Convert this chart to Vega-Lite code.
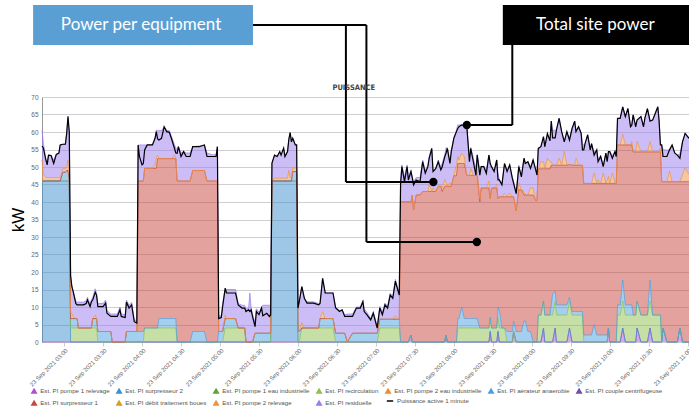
{
"$schema":"https://vega.github.io/schema/vega-lite/v6.json",
"width":647,"height":245,"autosize":"none",
"padding":{"left":42,"top":97,"right":0,"bottom":64},
"background":"white",
"config":{"view":{"stroke":null}},
"data":{"values":[
{"t":"2021-09-23T02:43","a":0,"b":46,"d":0,"f":0,"h":0,"j":6,"k":8.6,"p":56},
{"t":"2021-09-23T02:44","a":0,"b":46,"d":0,"f":0,"h":0,"j":2,"k":9,"p":55.5},
{"t":"2021-09-23T02:46","a":0,"b":46,"d":0,"f":0,"h":0,"j":1,"k":5,"p":52},
{"t":"2021-09-23T02:47","a":0,"b":46,"d":0,"f":0,"h":0,"j":1,"k":4.5,"p":50.6},
{"t":"2021-09-23T02:48","a":0,"b":46,"d":0,"f":0,"h":0,"j":1,"k":6.4,"p":53.4},
{"t":"2021-09-23T02:50","a":0,"b":46,"d":0,"f":0,"h":0,"j":1,"k":6.3,"p":53.3},
{"t":"2021-09-23T02:52","a":0,"b":46,"d":0,"f":0,"h":0,"j":1,"k":5,"p":51},
{"t":"2021-09-23T02:54","a":0,"b":46,"d":0,"f":0,"h":0,"j":1,"k":6.6,"p":53.6},
{"t":"2021-09-23T02:56","a":0,"b":46,"d":0,"f":0,"h":0,"j":1,"k":7,"p":54},
{"t":"2021-09-23T02:57","a":0,"b":46,"d":0,"f":0,"h":0,"j":1,"k":9.3,"p":56.3},
{"t":"2021-09-23T02:59","a":0,"b":46,"d":0,"f":2.5,"h":0,"j":1,"k":7,"p":56.5},
{"t":"2021-09-23T03:01","a":0,"b":46,"d":0,"f":2.5,"h":0,"j":1,"k":7,"p":56.5},
{"t":"2021-09-23T03:02","a":0,"b":46,"d":0,"f":3,"h":0,"j":1,"k":9.6,"p":59.6},
{"t":"2021-09-23T03:03","a":0,"b":46,"d":0,"f":3,"h":0,"j":3,"k":12,"p":64.5},
{"t":"2021-09-23T03:04","a":0,"b":46,"d":0,"f":0,"h":0,"j":1,"k":13,"p":60},
{"t":"2021-09-23T03:05","a":0,"b":0,"d":4,"f":2.7,"h":0,"j":1.5,"k":11,"p":19},
{"t":"2021-09-23T03:06","a":0,"b":0,"d":4,"f":2.7,"h":0,"j":1.5,"k":7.6,"p":15.8},
{"t":"2021-09-23T03:07","a":0,"b":0,"d":4,"f":2.7,"h":0,"j":0.5,"k":7.5,"p":14.4},
{"t":"2021-09-23T03:09","a":0,"b":0,"d":4,"f":2.7,"h":0,"j":0,"k":5,"p":11},
{"t":"2021-09-23T03:10","a":0,"b":0,"d":4,"f":2.7,"h":0,"j":0,"k":4.7,"p":10.6},
{"t":"2021-09-23T03:11","a":0,"b":0,"d":4,"f":0,"h":0,"j":0,"k":7.4,"p":10.6},
{"t":"2021-09-23T03:15","a":0,"b":0,"d":4,"f":0,"h":0,"j":0,"k":7.4,"p":10.6},
{"t":"2021-09-23T03:17","a":0,"b":0,"d":4,"f":0,"h":0,"j":0,"k":7.8,"p":11},
{"t":"2021-09-23T03:18","a":0,"b":0,"d":4,"f":0,"h":0,"j":0,"k":8.8,"p":12},
{"t":"2021-09-23T03:20","a":0,"b":0,"d":4,"f":0,"h":0,"j":0,"k":6.8,"p":10.1},
{"t":"2021-09-23T03:21","a":0,"b":0,"d":4,"f":0,"h":0,"j":0,"k":8,"p":11.5},
{"t":"2021-09-23T03:22","a":0,"b":0,"d":4,"f":2.7,"h":0,"j":0,"k":6,"p":12},
{"t":"2021-09-23T03:24","a":0,"b":0,"d":4,"f":2.7,"h":0,"j":1,"k":7.5,"p":14.2},
{"t":"2021-09-23T03:25","a":0,"b":0,"d":4,"f":2.7,"h":0,"j":0,"k":7,"p":13.4},
{"t":"2021-09-23T03:26","a":0,"b":0,"d":0,"f":3,"h":0,"j":0,"k":8,"p":10.1},
{"t":"2021-09-23T03:30","a":0,"b":0,"d":0,"f":3,"h":0,"j":0,"k":8,"p":10.1},
{"t":"2021-09-23T03:32","a":0,"b":0,"d":0,"f":3,"h":0,"j":0,"k":9,"p":11.1},
{"t":"2021-09-23T03:33","a":0,"b":0,"d":0,"f":3,"h":0,"j":0,"k":6,"p":8.2},
{"t":"2021-09-23T03:36","a":0,"b":0,"d":0,"f":3,"h":0,"j":0,"k":5,"p":7.3},
{"t":"2021-09-23T03:37","a":0,"b":0,"d":0,"f":0,"h":0,"j":0,"k":8,"p":7.3},
{"t":"2021-09-23T03:41","a":0,"b":0,"d":0,"f":0,"h":0,"j":0,"k":8,"p":7.3},
{"t":"2021-09-23T03:43","a":0,"b":0,"d":0,"f":0,"h":0,"j":0,"k":10,"p":9.2},
{"t":"2021-09-23T03:44","a":0,"b":0,"d":0,"f":0,"h":0,"j":0,"k":8,"p":7.3},
{"t":"2021-09-23T03:47","a":0,"b":0,"d":0,"f":0,"h":0,"j":0,"k":7.8,"p":7},
{"t":"2021-09-23T03:48","a":0,"b":0,"d":0,"f":3,"h":0,"j":0,"k":9,"p":11.4},
{"t":"2021-09-23T03:50","a":0,"b":0,"d":0,"f":3,"h":0,"j":0,"k":7.5,"p":9.7},
{"t":"2021-09-23T03:52","a":0,"b":0,"d":0,"f":3,"h":0,"j":0,"k":8.3,"p":10.6},
{"t":"2021-09-23T03:54","a":0,"b":0,"d":0,"f":3,"h":0,"j":0,"k":3.5,"p":5.8},
{"t":"2021-09-23T03:56","a":0,"b":0,"d":0,"f":3,"h":0,"j":0,"k":3,"p":5.4},
{"t":"2021-09-23T03:57","a":0,"b":0,"d":0,"f":3,"h":43,"j":0,"k":10.3,"p":56.3},
{"t":"2021-09-23T03:58","a":0,"b":0,"d":0,"f":3,"h":43,"j":0,"k":10.3,"p":53},
{"t":"2021-09-23T04:00","a":0,"b":0,"d":0,"f":3,"h":43,"j":0,"k":10.3,"p":50.6},
{"t":"2021-09-23T04:01","a":0,"b":0,"d":0,"f":3,"h":43,"j":0,"k":10.3,"p":51},
{"t":"2021-09-23T04:02","a":0,"b":0,"d":4,"f":0,"h":45.6,"j":0,"k":6.7,"p":54.9},
{"t":"2021-09-23T04:04","a":0,"b":0,"d":4,"f":0,"h":45.6,"j":0,"k":6.7,"p":56.3},
{"t":"2021-09-23T04:08","a":0,"b":0,"d":4,"f":0,"h":45.6,"j":0,"k":6.7,"p":56.3},
{"t":"2021-09-23T04:10","a":0,"b":0,"d":4,"f":0,"h":45.6,"j":1,"k":7.6,"p":58.2},
{"t":"2021-09-23T04:11","a":0,"b":0,"d":4,"f":0,"h":45.6,"j":3,"k":8,"p":60.1},
{"t":"2021-09-23T04:12","a":0,"b":0,"d":4,"f":0,"h":48.4,"j":1,"k":7,"p":58},
{"t":"2021-09-23T04:13","a":0,"b":0,"d":4,"f":2.7,"h":45.7,"j":0,"k":8,"p":57.7},
{"t":"2021-09-23T04:15","a":0,"b":0,"d":4,"f":2.7,"h":45.7,"j":0,"k":8,"p":58.2},
{"t":"2021-09-23T04:17","a":0,"b":0,"d":4,"f":2.7,"h":45.7,"j":0,"k":9,"p":61.5},
{"t":"2021-09-23T04:19","a":0,"b":0,"d":4,"f":2.7,"h":45.7,"j":0,"k":8,"p":60.1},
{"t":"2021-09-23T04:21","a":0,"b":0,"d":4,"f":2.7,"h":45.7,"j":0,"k":8,"p":59.9},
{"t":"2021-09-23T04:23","a":0,"b":0,"d":4,"f":2.7,"h":45.7,"j":0,"k":6,"p":57.7},
{"t":"2021-09-23T04:25","a":0,"b":0,"d":4,"f":2.7,"h":45.7,"j":1,"k":3,"p":55.3},
{"t":"2021-09-23T04:26","a":0,"b":0,"d":4,"f":2.7,"h":45.7,"j":0,"k":3,"p":54},
{"t":"2021-09-23T04:27","a":0,"b":0,"d":0,"f":0,"h":46,"j":0,"k":9,"p":53.9},
{"t":"2021-09-23T04:28","a":0,"b":0,"d":0,"f":0,"h":46,"j":0,"k":9.8,"p":55.8},
{"t":"2021-09-23T04:30","a":0,"b":0,"d":0,"f":0,"h":46,"j":0,"k":8,"p":53},
{"t":"2021-09-23T04:32","a":0,"b":0,"d":0,"f":0,"h":46,"j":0,"k":8.4,"p":54.4},
{"t":"2021-09-23T04:34","a":0,"b":0,"d":0,"f":0,"h":46,"j":0,"k":8,"p":53},
{"t":"2021-09-23T04:37","a":0,"b":0,"d":0,"f":0,"h":46,"j":0,"k":8,"p":53},
{"t":"2021-09-23T04:39","a":0,"b":0,"d":0,"f":3,"h":46,"j":0,"k":6.8,"p":55.8},
{"t":"2021-09-23T04:44","a":0,"b":0,"d":0,"f":3,"h":46,"j":0,"k":7,"p":55.8},
{"t":"2021-09-23T04:48","a":0,"b":0,"d":0,"f":3,"h":46,"j":0,"k":7.3,"p":56.3},
{"t":"2021-09-23T04:50","a":0,"b":0,"d":0,"f":0,"h":46,"j":0,"k":8,"p":53},
{"t":"2021-09-23T04:54","a":0,"b":0,"d":0,"f":0,"h":46,"j":0,"k":7.5,"p":53},
{"t":"2021-09-23T04:57","a":0,"b":0,"d":0,"f":0,"h":46,"j":0,"k":7.5,"p":53},
{"t":"2021-09-23T04:58","a":0,"b":0,"d":0,"f":0,"h":46,"j":0,"k":9.8,"p":55.8},
{"t":"2021-09-23T04:59","a":0,"b":0,"d":0,"f":3,"h":0,"j":0,"k":4.5,"p":6.7},
{"t":"2021-09-23T05:01","a":0,"b":0,"d":0,"f":3,"h":0,"j":0,"k":4.5,"p":7},
{"t":"2021-09-23T05:02","a":0,"b":0,"d":0,"f":3,"h":0,"j":0,"k":8,"p":10},
{"t":"2021-09-23T05:04","a":0,"b":0,"d":4,"f":2.7,"h":0,"j":1,"k":7.3,"p":15.4},
{"t":"2021-09-23T05:05","a":0,"b":0,"d":4,"f":2.7,"h":0,"j":0,"k":8.3,"p":14},
{"t":"2021-09-23T05:12","a":0,"b":0,"d":4,"f":2.7,"h":0,"j":0,"k":8.3,"p":14},
{"t":"2021-09-23T05:14","a":0,"b":0,"d":4,"f":0,"h":0,"j":0,"k":7,"p":10.6},
{"t":"2021-09-23T05:17","a":0,"b":0,"d":4,"f":0,"h":0,"j":0,"k":6.5,"p":9.7},
{"t":"2021-09-23T05:19","a":0,"b":0,"d":4,"f":0,"h":0,"j":0,"k":6.5,"p":9.7},
{"t":"2021-09-23T05:20","a":0,"b":0,"d":0,"f":0,"h":0,"j":0,"k":9.5,"p":8.7},
{"t":"2021-09-23T05:22","a":0,"b":0,"d":0,"f":0,"h":0,"j":0,"k":9.5,"p":9.2},
{"t":"2021-09-23T05:23","a":0,"b":0,"d":0,"f":0,"h":0,"j":0,"k":14,"p":8.7},
{"t":"2021-09-23T05:24","a":0,"b":0,"d":0,"f":0,"h":0,"j":0,"k":9.5,"p":9.2},
{"t":"2021-09-23T05:25","a":0,"b":0,"d":0,"f":0,"h":0,"j":0,"k":8,"p":7.3},
{"t":"2021-09-23T05:27","a":0,"b":0,"d":0,"f":2.5,"h":0,"j":0,"k":3,"p":4.4},
{"t":"2021-09-23T05:28","a":0,"b":0,"d":0,"f":2.5,"h":0,"j":0,"k":7,"p":8.7},
{"t":"2021-09-23T05:30","a":0,"b":0,"d":0,"f":2.5,"h":0,"j":0,"k":6,"p":7.8},
{"t":"2021-09-23T05:32","a":0,"b":0,"d":0,"f":2.5,"h":0,"j":0,"k":7.5,"p":9.7},
{"t":"2021-09-23T05:33","a":0,"b":0,"d":0,"f":2.5,"h":0,"j":0,"k":8,"p":7.5},
{"t":"2021-09-23T05:36","a":0,"b":0,"d":0,"f":2.5,"h":0,"j":0,"k":8,"p":8.2},
{"t":"2021-09-23T05:38","a":0,"b":0,"d":0,"f":2.5,"h":0,"j":0,"k":8,"p":7.3},
{"t":"2021-09-23T05:39","a":0,"b":0,"d":0,"f":2.5,"h":0,"j":0,"k":8,"p":7.8},
{"t":"2021-09-23T05:40","a":0,"b":46,"d":0,"f":0,"h":0,"j":0,"k":5.1,"p":51.1},
{"t":"2021-09-23T05:42","a":0,"b":46,"d":0,"f":0,"h":0,"j":0.8,"k":6.6,"p":53.4},
{"t":"2021-09-23T05:44","a":0,"b":46,"d":0,"f":0,"h":0,"j":0.8,"k":6.2,"p":53},
{"t":"2021-09-23T05:46","a":0,"b":46,"d":0,"f":0,"h":0,"j":0.8,"k":7.6,"p":54.4},
{"t":"2021-09-23T05:47","a":0,"b":46,"d":0,"f":0,"h":0,"j":0.8,"k":6.6,"p":53.4},
{"t":"2021-09-23T05:49","a":0,"b":46,"d":0,"f":0,"h":0,"j":0.8,"k":8.6,"p":55.4},
{"t":"2021-09-23T05:50","a":0,"b":46,"d":0,"f":0,"h":0,"j":0.8,"k":6.2,"p":53},
{"t":"2021-09-23T05:52","a":0,"b":46,"d":0,"f":0,"h":0,"j":0.8,"k":7.6,"p":54.4},
{"t":"2021-09-23T05:53","a":0,"b":46,"d":0,"f":0,"h":0,"j":3,"k":9,"p":57.9},
{"t":"2021-09-23T05:54","a":0,"b":46,"d":0,"f":0,"h":0,"j":1,"k":12.8,"p":59.8},
{"t":"2021-09-23T05:55","a":0,"b":46,"d":0,"f":0,"h":0,"j":1,"k":10.2,"p":57.2},
{"t":"2021-09-23T05:56","a":0,"b":46,"d":0,"f":2.7,"h":0,"j":1,"k":8.5,"p":58.2},
{"t":"2021-09-23T05:58","a":0,"b":46,"d":0,"f":2.7,"h":0,"j":1,"k":6.6,"p":56.3},
{"t":"2021-09-23T05:59","a":0,"b":46,"d":0,"f":2.7,"h":0,"j":1,"k":6.6,"p":56.3},
{"t":"2021-09-23T06:00","a":0,"b":0,"d":0,"f":3,"h":0,"j":0,"k":7,"p":9.7},
{"t":"2021-09-23T06:01","a":0,"b":0,"d":0,"f":3,"h":0,"j":0,"k":8.5,"p":11.5},
{"t":"2021-09-23T06:03","a":0,"b":0,"d":4,"f":0,"h":0,"j":1.5,"k":10.3,"p":15.8},
{"t":"2021-09-23T06:05","a":0,"b":0,"d":4,"f":0,"h":0,"j":0,"k":8.4,"p":12.4},
{"t":"2021-09-23T06:07","a":0,"b":0,"d":4,"f":0,"h":0,"j":0,"k":7.5,"p":11.1},
{"t":"2021-09-23T06:12","a":0,"b":0,"d":4,"f":0,"h":0,"j":0,"k":7.5,"p":11.1},
{"t":"2021-09-23T06:16","a":0,"b":0,"d":4,"f":0,"h":0,"j":0,"k":7,"p":10.6},
{"t":"2021-09-23T06:17","a":0,"b":0,"d":4,"f":2.7,"h":0,"j":0,"k":4.3,"p":11},
{"t":"2021-09-23T06:19","a":0,"b":0,"d":4,"f":2.7,"h":0,"j":2,"k":9.5,"p":18.2},
{"t":"2021-09-23T06:21","a":0,"b":0,"d":4,"f":2.7,"h":0,"j":0,"k":7.3,"p":14},
{"t":"2021-09-23T06:27","a":0,"b":0,"d":4,"f":2.7,"h":0,"j":0,"k":7.3,"p":14},
{"t":"2021-09-23T06:29","a":0,"b":0,"d":0,"f":2.5,"h":0,"j":0,"k":7.5,"p":9.7},
{"t":"2021-09-23T06:32","a":0,"b":0,"d":0,"f":2.5,"h":0,"j":0,"k":6.5,"p":8.7},
{"t":"2021-09-23T06:34","a":0,"b":0,"d":0,"f":2.5,"h":0,"j":0,"k":6.7,"p":9.2},
{"t":"2021-09-23T06:36","a":0,"b":0,"d":0,"f":2.5,"h":0,"j":0,"k":5.3,"p":7.3},
{"t":"2021-09-23T06:38","a":0,"b":0,"d":0,"f":0,"h":0,"j":0,"k":8,"p":7.3},
{"t":"2021-09-23T06:42","a":0,"b":0,"d":0,"f":2.5,"h":0,"j":0,"k":5.5,"p":7.3},
{"t":"2021-09-23T06:45","a":0,"b":0,"d":0,"f":2.5,"h":0,"j":0,"k":7.5,"p":9.7},
{"t":"2021-09-23T06:48","a":0,"b":0,"d":0,"f":2.5,"h":0,"j":0,"k":7.5,"p":9.7},
{"t":"2021-09-23T06:50","a":0,"b":0,"d":0,"f":2.5,"h":0,"j":0,"k":9.5,"p":11.5},
{"t":"2021-09-23T06:51","a":0,"b":0,"d":0,"f":2.5,"h":0,"j":0,"k":7,"p":8.7},
{"t":"2021-09-23T06:53","a":0,"b":0,"d":0,"f":2.5,"h":0,"j":0,"k":6,"p":7.8},
{"t":"2021-09-23T06:56","a":0,"b":0,"d":0,"f":2.5,"h":0,"j":0,"k":4.3,"p":6.3},
{"t":"2021-09-23T06:58","a":0,"b":0,"d":0,"f":2.5,"h":0,"j":0,"k":6.2,"p":8.2},
{"t":"2021-09-23T07:01","a":0,"b":0,"d":0,"f":2.5,"h":0,"j":0,"k":2,"p":4},
{"t":"2021-09-23T07:03","a":0,"b":0,"d":4,"f":2.5,"h":0,"j":0,"k":3.7,"p":9.7},
{"t":"2021-09-23T07:05","a":0,"b":0,"d":4,"f":2.5,"h":0,"j":0,"k":2,"p":7.8},
{"t":"2021-09-23T07:07","a":0,"b":0,"d":4,"f":2.5,"h":0,"j":0,"k":4.6,"p":10.6},
{"t":"2021-09-23T07:09","a":0,"b":0,"d":4,"f":2.5,"h":0,"j":0,"k":3.7,"p":9.7},
{"t":"2021-09-23T07:11","a":0,"b":0,"d":4,"f":2.5,"h":0,"j":0,"k":7.4,"p":13.4},
{"t":"2021-09-23T07:13","a":0,"b":0,"d":4,"f":2.5,"h":0,"j":0,"k":6.5,"p":12.5},
{"t":"2021-09-23T07:15","a":0,"b":0,"d":4,"f":2.5,"h":0,"j":1,"k":10.4,"p":17.4},
{"t":"2021-09-23T07:16","a":0,"b":0,"d":4,"f":2.5,"h":0,"j":0,"k":10,"p":16},
{"t":"2021-09-23T07:18","a":0,"b":0,"d":4,"f":2.5,"h":0,"j":0,"k":7.4,"p":13.4},
{"t":"2021-09-23T07:19","a":0,"b":0,"d":0,"f":0,"h":40.1,"j":0,"k":6,"p":45},
{"t":"2021-09-23T07:20","a":0,"b":0,"d":0,"f":0,"h":40.1,"j":0,"k":10.5,"p":50.1},
{"t":"2021-09-23T07:22","a":0,"b":0,"d":0,"f":0,"h":40.1,"j":0,"k":7,"p":45.8},
{"t":"2021-09-23T07:24","a":0,"b":0,"d":0,"f":0,"h":40.1,"j":0,"k":10.5,"p":50.1},
{"t":"2021-09-23T07:25","a":0,"b":0,"d":0,"f":0,"h":40.1,"j":0,"k":7,"p":46.3},
{"t":"2021-09-23T07:27","a":2,"b":0,"d":0,"f":0,"h":38.1,"j":0,"k":9,"p":48.7},
{"t":"2021-09-23T07:28","a":0,"b":0,"d":0,"f":0,"h":42,"j":0,"k":5,"p":47},
{"t":"2021-09-23T07:29","a":0,"b":0,"d":0,"f":0,"h":37.7,"j":0,"k":8,"p":44.9},
{"t":"2021-09-23T07:31","a":0,"b":0,"d":0,"f":0,"h":42,"j":0,"k":5,"p":46.3},
{"t":"2021-09-23T07:34","a":0,"b":0,"d":0,"f":0,"h":42,"j":0,"k":5,"p":45.8},
{"t":"2021-09-23T07:36","a":0,"b":0,"d":0,"f":0,"h":43,"j":0,"k":9,"p":51.5},
{"t":"2021-09-23T07:38","a":0,"b":0,"d":0,"f":0,"h":43,"j":0,"k":6,"p":48.2},
{"t":"2021-09-23T07:40","a":0,"b":0,"d":0,"f":0,"h":43,"j":0,"k":7.5,"p":50.1},
{"t":"2021-09-23T07:41","a":0,"b":0,"d":0,"f":0,"h":43,"j":2,"k":8,"p":52.5},
{"t":"2021-09-23T07:43","a":0,"b":0,"d":0,"f":0,"h":43,"j":0,"k":12.3,"p":55.3},
{"t":"2021-09-23T07:44","a":0,"b":0,"d":0,"f":0,"h":43,"j":1,"k":5,"p":48.7},
{"t":"2021-09-23T07:46","a":0,"b":0,"d":0,"f":0,"h":43,"j":0,"k":6.5,"p":49.5},
{"t":"2021-09-23T07:48","a":0,"b":0,"d":0,"f":0,"h":44.5,"j":0,"k":7.5,"p":51.5},
{"t":"2021-09-23T07:50","a":0,"b":0,"d":0,"f":0,"h":44.5,"j":0,"k":5.5,"p":49.2},
{"t":"2021-09-23T07:51","a":0,"b":0,"d":0,"f":0,"h":43,"j":1,"k":7,"p":50},
{"t":"2021-09-23T07:53","a":0,"b":0,"d":0,"f":0,"h":44.5,"j":2,"k":7,"p":52.9},
{"t":"2021-09-23T07:54","a":2,"b":0,"d":0,"f":0,"h":42.5,"j":1,"k":10,"p":54},
{"t":"2021-09-23T07:55","a":0,"b":0,"d":0,"f":0,"h":44.5,"j":0,"k":11,"p":55.3},
{"t":"2021-09-23T07:57","a":0,"b":0,"d":0,"f":0,"h":44.5,"j":1,"k":6,"p":51},
{"t":"2021-09-23T07:58","a":0,"b":0,"d":0,"f":0,"h":44.5,"j":0,"k":10,"p":54.4},
{"t":"2021-09-23T08:00","a":0,"b":0,"d":0,"f":0,"h":47.5,"j":0,"k":11,"p":58.2},
{"t":"2021-09-23T08:02","a":0,"b":0,"d":0,"f":0,"h":47.5,"j":3,"k":10,"p":60.1},
{"t":"2021-09-23T08:03","a":0,"b":0,"d":4,"f":2.7,"h":44.3,"j":2,"k":9,"p":61},
{"t":"2021-09-23T08:04","a":0,"b":0,"d":4,"f":2.7,"h":44.3,"j":1,"k":10,"p":61.5},
{"t":"2021-09-23T08:06","a":0,"b":0,"d":4,"f":6,"h":41,"j":3,"k":8,"p":62},
{"t":"2021-09-23T08:08","a":0,"b":0,"d":4,"f":2.7,"h":44.3,"j":2,"k":9,"p":61.8},
{"t":"2021-09-23T08:10","a":0,"b":0,"d":4,"f":2.7,"h":40.9,"j":0,"k":14,"p":61.5},
{"t":"2021-09-23T08:12","a":0,"b":0,"d":4,"f":2.7,"h":40.9,"j":0,"k":5,"p":51.5},
{"t":"2021-09-23T08:13","a":0,"b":0,"d":4,"f":2.7,"h":40.9,"j":2,"k":6,"p":55.3},
{"t":"2021-09-23T08:15","a":0,"b":0,"d":4,"f":2.7,"h":40.9,"j":0,"k":5,"p":51.5},
{"t":"2021-09-23T08:17","a":0,"b":0,"d":4,"f":2.7,"h":40.9,"j":0,"k":2,"p":47.7},
{"t":"2021-09-23T08:18","a":0,"b":0,"d":4,"f":2.7,"h":40.9,"j":1,"k":5,"p":53.4},
{"t":"2021-09-23T08:20","a":0,"b":0,"d":4,"f":0,"h":36,"j":1,"k":8,"p":47.7},
{"t":"2021-09-23T08:21","a":0,"b":0,"d":4,"f":0,"h":40,"j":0,"k":6,"p":50.1},
{"t":"2021-09-23T08:23","a":0,"b":0,"d":4,"f":0,"h":40,"j":0,"k":6.3,"p":50.1},
{"t":"2021-09-23T08:25","a":0,"b":0,"d":4,"f":0,"h":40,"j":0,"k":5,"p":48.2},
{"t":"2021-09-23T08:27","a":0,"b":0,"d":4,"f":0,"h":40,"j":2,"k":7.5,"p":53.4},
{"t":"2021-09-23T08:28","a":3,"b":0,"d":4,"f":0,"h":34,"j":0,"k":9,"p":51},
{"t":"2021-09-23T08:29","a":0,"b":0,"d":4,"f":0,"h":40,"j":0,"k":6,"p":50.1},
{"t":"2021-09-23T08:31","a":0,"b":0,"d":4,"f":0,"h":40,"j":0,"k":5,"p":48.7},
{"t":"2021-09-23T08:33","a":0,"b":0,"d":4,"f":0,"h":40,"j":1,"k":7,"p":52},
{"t":"2021-09-23T08:34","a":3,"b":0,"d":4,"f":3,"h":31,"j":0,"k":7,"p":46.3},
{"t":"2021-09-23T08:35","a":0,"b":0,"d":4,"f":5,"h":32.5,"j":0,"k":5,"p":46.3},
{"t":"2021-09-23T08:37","a":0,"b":0,"d":4,"f":0,"h":37.5,"j":0,"k":3.5,"p":44.9},
{"t":"2021-09-23T08:39","a":0,"b":0,"d":4,"f":0,"h":37.5,"j":1,"k":8.5,"p":51},
{"t":"2021-09-23T08:41","a":0,"b":0,"d":0,"f":3,"h":38.5,"j":0,"k":7.5,"p":48.7},
{"t":"2021-09-23T08:43","a":0,"b":0,"d":0,"f":3,"h":38.5,"j":1,"k":8.1,"p":50.6},
{"t":"2021-09-23T08:45","a":0,"b":0,"d":0,"f":3,"h":38.5,"j":0,"k":5.5,"p":46.8},
{"t":"2021-09-23T08:46","a":3,"b":0,"d":0,"f":3,"h":35.5,"j":0,"k":4.5,"p":45.3},
{"t":"2021-09-23T08:48","a":0,"b":0,"d":0,"f":3,"h":34.5,"j":0,"k":5,"p":42.4},
{"t":"2021-09-23T08:50","a":0,"b":0,"d":0,"f":3,"h":40.5,"j":2,"k":5,"p":50.1},
{"t":"2021-09-23T08:52","a":0,"b":0,"d":0,"f":3,"h":40.5,"j":0,"k":4,"p":47.2},
{"t":"2021-09-23T08:54","a":0,"b":0,"d":0,"f":6,"h":36,"j":1,"k":9.5,"p":52.5},
{"t":"2021-09-23T08:55","a":0,"b":0,"d":0,"f":6,"h":36,"j":0,"k":9,"p":51},
{"t":"2021-09-23T08:57","a":0,"b":0,"d":0,"f":3,"h":39,"j":0,"k":9.5,"p":51.5},
{"t":"2021-09-23T08:59","a":0,"b":0,"d":0,"f":3,"h":39,"j":2,"k":6,"p":49.6},
{"t":"2021-09-23T09:01","a":0,"b":0,"d":0,"f":0,"h":42,"j":2,"k":8,"p":52},
{"t":"2021-09-23T09:03","a":0,"b":0,"d":0,"f":0,"h":40.4,"j":0,"k":9,"p":49.2},
{"t":"2021-09-23T09:04","a":0,"b":0,"d":0,"f":0,"h":40.4,"j":0,"k":7.3,"p":47.7},
{"t":"2021-09-23T09:05","a":0,"b":0,"d":7.7,"f":0,"h":41.8,"j":0,"k":5.8,"p":55.3},
{"t":"2021-09-23T09:07","a":0,"b":0,"d":7.7,"f":0,"h":41.8,"j":2,"k":4.3,"p":55.8},
{"t":"2021-09-23T09:09","a":4,"b":0,"d":7.7,"f":0,"h":37.8,"j":2,"k":7,"p":58.7},
{"t":"2021-09-23T09:10","a":0,"b":0,"d":7.7,"f":0,"h":41.8,"j":0,"k":6.3,"p":55.8},
{"t":"2021-09-23T09:12","a":0,"b":0,"d":7.7,"f":0,"h":41.8,"j":3,"k":6.3,"p":59.6},
{"t":"2021-09-23T09:14","a":0,"b":0,"d":7.7,"f":0,"h":41.8,"j":2,"k":6,"p":57.5},
{"t":"2021-09-23T09:15","a":0,"b":0,"d":7.7,"f":2.9,"h":39.9,"j":1,"k":11.5,"p":63.1},
{"t":"2021-09-23T09:16","a":0,"b":0,"d":7.7,"f":5.9,"h":36.9,"j":0,"k":10,"p":58.3},
{"t":"2021-09-23T09:18","a":4,"b":0,"d":7.7,"f":2.9,"h":35.9,"j":0,"k":10,"p":58.3},
{"t":"2021-09-23T09:19","a":0,"b":0,"d":7.7,"f":2.9,"h":39.9,"j":0,"k":10,"p":60.6},
{"t":"2021-09-23T09:21","a":0,"b":0,"d":7.7,"f":2.9,"h":39.9,"j":2,"k":11.5,"p":63.9},
{"t":"2021-09-23T09:23","a":0,"b":0,"d":7.7,"f":2.9,"h":39.9,"j":0,"k":9.5,"p":60.1},
{"t":"2021-09-23T09:25","a":0,"b":0,"d":7.7,"f":2.9,"h":39.9,"j":4,"k":3,"p":57.2},
{"t":"2021-09-23T09:27","a":0,"b":0,"d":7.7,"f":2.9,"h":39.9,"j":0,"k":9.6,"p":60.1},
{"t":"2021-09-23T09:29","a":4,"b":0,"d":7.7,"f":1,"h":38,"j":0,"k":7.3,"p":57.7},
{"t":"2021-09-23T09:31","a":0,"b":0,"d":7.7,"f":1,"h":41.8,"j":0,"k":10.5,"p":61},
{"t":"2021-09-23T09:33","a":0,"b":0,"d":7.7,"f":1,"h":41.8,"j":0,"k":12.6,"p":63.1},
{"t":"2021-09-23T09:34","a":0,"b":0,"d":7.7,"f":1,"h":41.8,"j":2,"k":7.6,"p":60.1},
{"t":"2021-09-23T09:36","a":0,"b":0,"d":7.7,"f":1,"h":41.8,"j":0,"k":11,"p":61.5},
{"t":"2021-09-23T09:38","a":0,"b":0,"d":7.7,"f":1,"h":41.8,"j":0,"k":9.1,"p":59.6},
{"t":"2021-09-23T09:39","a":0,"b":0,"d":7.7,"f":1,"h":41.8,"j":0,"k":6,"p":54.9},
{"t":"2021-09-23T09:40","a":0,"b":0,"d":0,"f":2,"h":43.3,"j":0,"k":11,"p":54.9},
{"t":"2021-09-23T09:41","a":0,"b":0,"d":0,"f":2,"h":43.3,"j":0,"k":11.4,"p":56.7},
{"t":"2021-09-23T09:43","a":0,"b":0,"d":0,"f":2,"h":43.3,"j":0,"k":14,"p":59.2},
{"t":"2021-09-23T09:45","a":0,"b":0,"d":0,"f":2,"h":43.3,"j":0,"k":9.6,"p":54.9},
{"t":"2021-09-23T09:46","a":0,"b":0,"d":0,"f":2,"h":43.3,"j":0,"k":11.4,"p":56.7},
{"t":"2021-09-23T09:48","a":0,"b":0,"d":0,"f":5,"h":40.3,"j":3,"k":6,"p":53.4},
{"t":"2021-09-23T09:50","a":0,"b":0,"d":0,"f":2,"h":43.3,"j":0,"k":9.6,"p":54.9},
{"t":"2021-09-23T09:51","a":0,"b":0,"d":0,"f":2,"h":43.3,"j":1,"k":6,"p":51.5},
{"t":"2021-09-23T09:53","a":0,"b":0,"d":0,"f":2,"h":43.3,"j":0,"k":8,"p":53},
{"t":"2021-09-23T09:55","a":0,"b":0,"d":0,"f":2,"h":43.3,"j":3,"k":2,"p":50.1},
{"t":"2021-09-23T09:57","a":0,"b":0,"d":0,"f":2,"h":43.3,"j":0,"k":8.7,"p":54},
{"t":"2021-09-23T09:58","a":0,"b":0,"d":0,"f":2,"h":43.3,"j":1,"k":6,"p":51.5},
{"t":"2021-09-23T09:59","a":4,"b":0,"d":0,"f":0,"h":41.3,"j":2,"k":7,"p":54.4},
{"t":"2021-09-23T10:00","a":0,"b":0,"d":0,"f":0,"h":45.3,"j":0,"k":9.1,"p":54.4},
{"t":"2021-09-23T10:02","a":0,"b":0,"d":0,"f":0,"h":45.3,"j":3,"k":5,"p":52.5},
{"t":"2021-09-23T10:04","a":0,"b":0,"d":0,"f":0,"h":45.3,"j":0,"k":9.1,"p":54.4},
{"t":"2021-09-23T10:05","a":0,"b":0,"d":0,"f":0,"h":45.3,"j":0,"k":7.7,"p":53},
{"t":"2021-09-23T10:06","a":0,"b":0,"d":7.7,"f":2.9,"h":45.7,"j":0,"k":7.6,"p":63.9},
{"t":"2021-09-23T10:08","a":0,"b":0,"d":7.7,"f":2.9,"h":45.7,"j":0,"k":7.6,"p":63.9},
{"t":"2021-09-23T10:10","a":4,"b":0,"d":7.7,"f":6,"h":38.6,"j":3,"k":7.9,"p":67.2},
{"t":"2021-09-23T10:12","a":0,"b":0,"d":7.7,"f":2.9,"h":45.7,"j":0,"k":8.1,"p":64.4},
{"t":"2021-09-23T10:14","a":0,"b":0,"d":7.7,"f":2.9,"h":45.7,"j":0,"k":10.4,"p":66.7},
{"t":"2021-09-23T10:16","a":0,"b":0,"d":7.7,"f":2.9,"h":45.7,"j":0,"k":5.2,"p":61.5},
{"t":"2021-09-23T10:17","a":0,"b":0,"d":7.7,"f":2.9,"h":45.7,"j":1,"k":5,"p":62},
{"t":"2021-09-23T10:18","a":0,"b":0,"d":7.7,"f":0,"h":46.6,"j":0,"k":10.6,"p":64.9},
{"t":"2021-09-23T10:20","a":0,"b":0,"d":7.7,"f":0,"h":46.6,"j":0,"k":7.2,"p":61.5},
{"t":"2021-09-23T10:21","a":4,"b":0,"d":7.7,"f":0,"h":42.6,"j":3,"k":6,"p":63.4},
{"t":"2021-09-23T10:24","a":0,"b":0,"d":7.7,"f":0,"h":46.6,"j":0,"k":10.1,"p":64.4},
{"t":"2021-09-23T10:26","a":0,"b":0,"d":7.7,"f":0,"h":46.6,"j":0,"k":7.2,"p":61.5},
{"t":"2021-09-23T10:27","a":0,"b":0,"d":7.7,"f":0,"h":46.6,"j":0,"k":9.6,"p":63.9},
{"t":"2021-09-23T10:29","a":0,"b":0,"d":7.7,"f":0,"h":46.6,"j":0,"k":12.4,"p":66.7},
{"t":"2021-09-23T10:31","a":4,"b":0,"d":7.7,"f":6,"h":36.6,"j":3,"k":6,"p":63.1},
{"t":"2021-09-23T10:33","a":0,"b":0,"d":7.7,"f":0,"h":46.6,"j":0,"k":9.1,"p":63.4},
{"t":"2021-09-23T10:35","a":0,"b":0,"d":7.7,"f":0,"h":46.6,"j":0,"k":11,"p":65.3},
{"t":"2021-09-23T10:37","a":0,"b":0,"d":7.7,"f":0,"h":46.6,"j":0,"k":12.9,"p":67.2},
{"t":"2021-09-23T10:38","a":0,"b":0,"d":7.7,"f":0,"h":46.6,"j":0,"k":8.8,"p":63.1},
{"t":"2021-09-23T10:39","a":0,"b":0,"d":7.7,"f":0,"h":46.6,"j":1,"k":1,"p":56.3},
{"t":"2021-09-23T10:40","a":0,"b":0,"d":0,"f":0,"h":45.8,"j":0,"k":10.5,"p":56.3},
{"t":"2021-09-23T10:41","a":4,"b":0,"d":0,"f":0,"h":41.8,"j":0,"k":9.2,"p":53},
{"t":"2021-09-23T10:44","a":0,"b":0,"d":0,"f":0,"h":45.8,"j":0,"k":9,"p":53},
{"t":"2021-09-23T10:46","a":0,"b":0,"d":0,"f":0,"h":45.8,"j":3,"k":6.1,"p":54.9},
{"t":"2021-09-23T10:48","a":0,"b":0,"d":0,"f":0,"h":45.8,"j":0,"k":10.5,"p":56.3},
{"t":"2021-09-23T10:50","a":0,"b":0,"d":0,"f":0,"h":45.8,"j":0,"k":8.2,"p":54},
{"t":"2021-09-23T10:52","a":0,"b":0,"d":0,"f":0,"h":45.8,"j":0,"k":7.6,"p":53.4},
{"t":"2021-09-23T10:54","a":4,"b":0,"d":0,"f":0,"h":41.8,"j":0,"k":8,"p":52.5},
{"t":"2021-09-23T10:56","a":0,"b":0,"d":0,"f":0,"h":45.8,"j":2,"k":9.4,"p":57.2},
{"t":"2021-09-23T10:58","a":0,"b":0,"d":0,"f":0,"h":45.8,"j":4,"k":9.8,"p":59.6},
{"t":"2021-09-23T11:01","a":0,"b":0,"d":0,"f":0,"h":45.8,"j":2,"k":10.4,"p":58.2}
]},
"layer":[
{"transform":[
  {"fold":["a","b","d","f","h","j","k"],"as":["key","v"]},
  {"lookup":"key","from":{"data":{"values":[
    {"key":"a","name":"Est. PI pompe 1 relevage","ord":0},
    {"key":"b","name":"Est. PI surpresseur 2","ord":1},
    {"key":"d","name":"Est. PI recirculation","ord":3},
    {"key":"f","name":"Est. PI aérateur anaerobie","ord":5},
    {"key":"h","name":"Est. PI surpresseur 1","ord":7},
    {"key":"j","name":"Est. PI pompe 2 relevage","ord":9},
    {"key":"k","name":"Est. PI residuelle","ord":10}]},"key":"key","fields":["name","ord"]}}],
 "mark":{"type":"area","fillOpacity":0.5,"line":{"strokeWidth":0.7}},
 "encoding":{
  "x":{"field":"t","type":"temporal",
   "scale":{"domain":[{"year":2021,"month":9,"date":23,"hours":2,"minutes":43},{"year":2021,"month":9,"date":23,"hours":11,"minutes":1}]},
   "axis":{"format":"%d %b %Y %H:%M","labelAngle":-45,"labelFontSize":6,"labelColor":"#666","grid":false,"title":null,"tickColor":"#ccc","tickSize":4,"domainColor":"#ccc","labelPadding":1,"tickCount":17,"labelOverlap":false}},
  "y":{"field":"v","type":"quantitative","stack":"zero","scale":{"domain":[0,70]},
   "axis":{"tickCount":14,"labelFontSize":6.5,"labelColor":"#666","gridColor":"#cfcfcf","ticks":false,"labelPadding":4,"domainColor":"#999","title":"kW","titleFontSize":17,"titleFontWeight":"normal","titleColor":"#000","titlePadding":3}},
  "color":{"field":"name","type":"nominal",
   "scale":{"domain":["Est. PI pompe 1 relevage","Est. PI surpresseur 2","Est. PI pompe 1 eau industrielle","Est. PI recirculation","Est. PI pompe 2 eau industrielle","Est. PI aérateur anaerobie","Est. PI couple centrifugeuse","Est. PI surpresseur 1","Est. PI débit traitement boues","Est. PI pompe 2 relevage","Est. PI residuelle"],
    "range":["#B04FD4","#3E8FD0","#5FA33A","#8DC050","#F08C2E","#4B9FE0","#6E4FA8","#C8463C","#D4A017","#EE9040","#9A7BF0"]},
   "legend":{"orient":"none","direction":"horizontal","legendX":-11,"legendY":291,"title":null,"columns":7,"gridAlign":"none","columnPadding":3,"rowPadding":1,"labelFontSize":6.2,"labelColor":"#555","labelOffset":3,"symbolSize":20,"symbolType":"triangle-up","symbolOpacity":1}},
  "order":{"field":"ord","type":"quantitative"}}},
{"mark":{"type":"line","strokeWidth":1.2},
 "encoding":{"x":{"field":"t","type":"temporal"},"y":{"field":"p","type":"quantitative"},
  "stroke":{"datum":"Puissance active 1 minute","type":"nominal","scale":{"range":["#000000"]},
   "legend":{"orient":"none","legendX":344,"legendY":300,"title":null,"labelFontSize":6.2,"labelColor":"#555","labelOffset":3,"symbolType":"stroke","symbolSize":40,"symbolStrokeWidth":1.5}}}},
{"data":{"values":[{"x":"2021-09-23T02:36:09","x2":"2021-09-23T05:25:23","y":84.857,"y2":96.286}]},
 "mark":{"type":"rect","color":"#5A9FD4"},
 "encoding":{"x":{"field":"x","type":"temporal"},"x2":{"field":"x2"},"y":{"field":"y","type":"quantitative"},"y2":{"field":"y2"}}},
{"data":{"values":[{"x":"2021-09-23T08:37:42","x2":"2021-09-23T11:04:00","y":84.857,"y2":96.286}]},
 "mark":{"type":"rect","color":"#000000"},
 "encoding":{"x":{"field":"x","type":"temporal"},"x2":{"field":"x2"},"y":{"field":"y","type":"quantitative"},"y2":{"field":"y2"}}},
{"data":{"values":[
  {"x":"2021-09-23T05:25:23","y":90.571,"x2":"2021-09-23T06:52:42","y2":90.571},
  {"x":"2021-09-23T06:36:55","y":90.571,"x2":"2021-09-23T06:36:55","y2":45.714},
  {"x":"2021-09-23T06:36:55","y":45.714,"x2":"2021-09-23T07:44:14","y2":45.714},
  {"x":"2021-09-23T06:52:42","y":90.571,"x2":"2021-09-23T06:52:42","y2":28.571},
  {"x":"2021-09-23T06:52:42","y":28.571,"x2":"2021-09-23T08:17:42","y2":28.571},
  {"x":"2021-09-23T08:45:00","y":84.857,"x2":"2021-09-23T08:45:00","y2":62},
  {"x":"2021-09-23T08:45:00","y":62,"x2":"2021-09-23T08:10:00","y2":62}]},
 "mark":{"type":"rule","color":"#000","strokeWidth":2},
 "encoding":{"x":{"field":"x","type":"temporal"},"x2":{"field":"x2"},"y":{"field":"y","type":"quantitative"},"y2":{"field":"y2"}}},
{"data":{"values":[
  {"x":"2021-09-23T07:44:14","y":45.714},
  {"x":"2021-09-23T08:17:42","y":28.571},
  {"x":"2021-09-23T08:10:00","y":62}]},
 "mark":{"type":"point","filled":true,"color":"#000","size":70,"opacity":1},
 "encoding":{"x":{"field":"x","type":"temporal"},"y":{"field":"y","type":"quantitative"}}},
{"data":{"values":[
  {"x":"2021-09-23T03:59:14","y":90.571,"label":"Power per equipment"},
  {"x":"2021-09-23T09:48:51","y":90.571,"label":"Total site power"}]},
 "mark":{"type":"text","color":"#fff","fontSize":17,"font":"Lato","baseline":"middle","align":"center"},
 "encoding":{"x":{"field":"x","type":"temporal"},"y":{"field":"y","type":"quantitative"},"text":{"field":"label"}}},
{"data":{"values":[{"x":"2021-09-23T06:43:00","y":72.6,"label":"PUISSANCE"}]},
 "mark":{"type":"text","color":"#444","fontSize":7.5,"font":"DejaVu Sans Condensed","fontWeight":"bold","baseline":"middle","align":"center"},
 "encoding":{"x":{"field":"x","type":"temporal"},"y":{"field":"y","type":"quantitative"},"text":{"field":"label"}}}
]
}
